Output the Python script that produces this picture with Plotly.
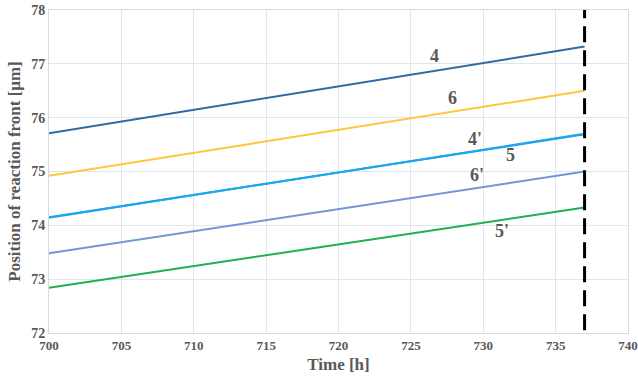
import plotly.graph_objects as go

time_h = [700, 737]
series_names = ["4", "6", "4'", "5", "6'", "5'"]
series_values = {
    "4": [75.71, 77.32],
    "6": [74.92, 76.50],
    "4'": [74.15, 75.69],
    "5": [74.14, 75.70],
    "6'": [73.48, 75.00],
    "5'": [72.84, 74.33],
}
series_colors = {
    "4": "#2F6AA3",
    "6": "#FFC73A",
    "4'": "#1F9FE3",
    "5": "#1AA8EE",
    "6'": "#7495D8",
    "5'": "#1DB14F",
}
label_x = {"4": 726.6, "6": 727.9, "4'": 729.4, "5": 731.9, "6'": 729.6, "5'": 731.3}
label_y = {"4": 77.15, "6": 76.37, "4'": 75.61, "5": 75.30, "6'": 74.93, "5'": 73.90}
cutoff_time = 737
y_range = [72, 78]
x_range = [700, 740]

font_family = "Liberation Serif, Times New Roman, serif"
txt_color = "#595959"

fig = go.Figure()
for name in series_names:
    fig.add_trace(go.Scatter(x=time_h, y=series_values[name], mode="lines",
                             line=dict(color=series_colors[name], width=2),
                             showlegend=False, hoverinfo="skip"))

fig.add_trace(go.Scatter(x=[cutoff_time, cutoff_time], y=[72.05, 78], mode="lines",
                         line=dict(color="black", width=3, dash="16px,8px"),
                         showlegend=False, hoverinfo="skip"))

for name in series_names:
    fig.add_annotation(x=label_x[name], y=label_y[name], text="<b>%s</b>" % name,
                       showarrow=False, font=dict(family=font_family, size=18, color=txt_color))

fig.update_layout(
    width=638, height=380,
    margin=dict(l=49, r=10, t=10, b=47),
    paper_bgcolor="white", plot_bgcolor="white",
    font=dict(family=font_family, color=txt_color),
)
fig.update_xaxes(range=x_range, dtick=5, tick0=700, showgrid=True, gridcolor="#E1E5EE", gridwidth=1,
                 showline=True, linecolor="#D5DAE5", mirror=True, zeroline=False,
                 ticklabeloverflow="allow", automargin=False,
                 tickfont=dict(family=font_family, size=13, color=txt_color),
                 tickprefix="<b>", ticksuffix="</b>",
                 title=dict(text="<b>Time [h]</b>", font=dict(family=font_family, size=17, color=txt_color), standoff=6))
fig.update_yaxes(range=y_range, dtick=1, showgrid=True, gridcolor="#E1E5EE", gridwidth=1,
                 showline=True, linecolor="#D5DAE5", mirror=True, zeroline=False,
                 automargin=False,
                 tickfont=dict(family=font_family, size=14, color=txt_color),
                 tickprefix="<b>", ticksuffix="</b>",
                 title=dict(text="<b>Position of reaction front [μm]</b>", font=dict(family=font_family, size=17, color=txt_color), standoff=6))

fig.write_html("out.html")
